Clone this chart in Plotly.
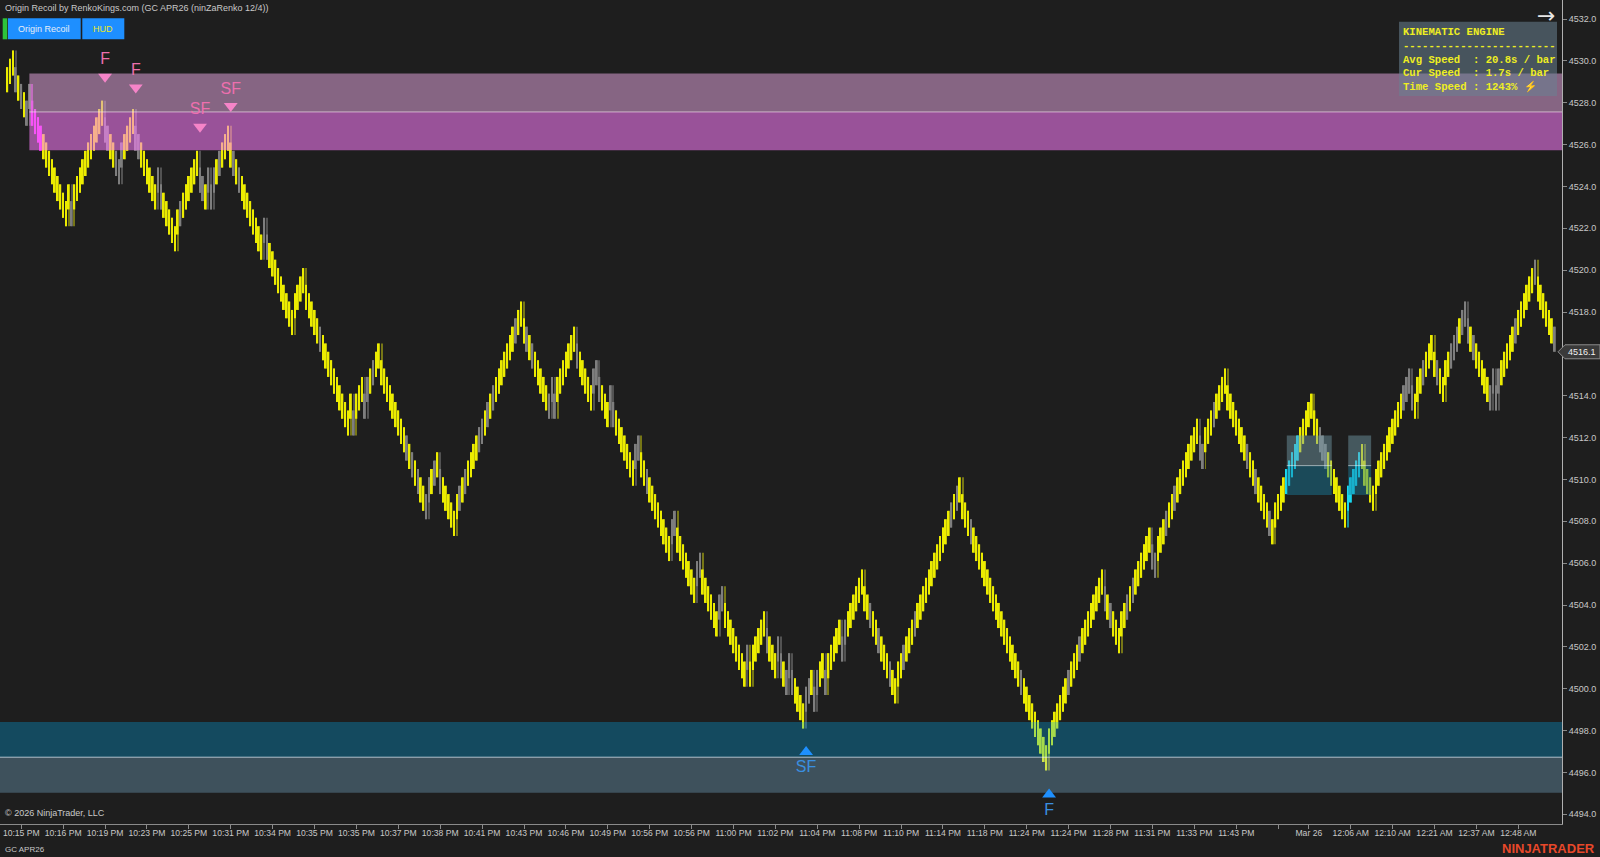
import plotly.graph_objects as go

# ---------------- data ----------------
closes = [
    4529.7, 4530.1, 4530.5, 4528.5, 4528.1, 4527.7, 4527.3, 4526.9, 4528.9, 4526.9, 4526.5,
    4526.1, 4525.7, 4525.3, 4524.9, 4524.5, 4524.1, 4523.7, 4523.3, 4522.9, 4522.5, 4522.1,
    4524.1, 4522.1, 4524.1, 4524.5, 4524.9, 4525.3, 4525.7, 4526.1, 4526.5, 4526.9, 4527.3, 4527.7, 4528.1,
    4526.1, 4525.7, 4525.3, 4524.9, 4524.5, 4524.1,
    4526.1, 4526.5, 4526.9, 4527.3, 4527.7,
    4525.7, 4525.3, 4524.9, 4524.5, 4524.1, 4523.7, 4523.3, 4522.9, 4524.9, 4522.9, 4522.5, 4522.1, 4521.7, 4521.3, 4520.9,
    4522.9, 4523.3, 4523.7, 4524.1, 4524.5, 4524.9, 4525.3, 4525.7,
    4523.7, 4523.3, 4522.9, 4524.9, 4522.9, 4524.9, 4525.3, 4525.7, 4526.1, 4526.5, 4526.9,
    4524.9, 4524.5, 4524.1, 4523.7, 4523.3, 4522.9, 4522.5, 4522.1, 4521.7, 4521.3, 4520.9, 4520.5,
    4522.5, 4520.5, 4520.1, 4519.7, 4519.3, 4518.9, 4518.5, 4518.1, 4517.7, 4517.3, 4516.9,
    4518.9, 4519.3, 4519.7, 4520.1,
    4518.1, 4517.7, 4517.3, 4516.9, 4516.5, 4516.1, 4515.7, 4515.3, 4514.9, 4514.5, 4514.1, 4513.7,
    4513.3, 4512.9, 4512.5, 4512.1,
    4514.1, 4512.1, 4514.1, 4514.5, 4514.9, 4512.9, 4514.9, 4515.3, 4515.7, 4516.1, 4516.5,
    4514.5, 4514.1, 4513.7, 4513.3, 4512.9, 4512.5, 4512.1, 4511.7, 4511.3, 4510.9, 4510.5, 4510.1,
    4509.7, 4509.3, 4508.9, 4508.5, 4508.1,
    4510.1, 4510.5, 4510.9, 4511.3,
    4509.3, 4508.9, 4508.5, 4508.1, 4507.7, 4507.3,
    4509.3, 4509.7, 4510.1, 4510.5, 4510.9, 4511.3, 4511.7, 4512.1, 4512.5, 4512.9, 4513.3, 4513.7,
    4514.1, 4514.5, 4514.9, 4515.3, 4515.7, 4516.1, 4516.5, 4516.9, 4517.3, 4517.7, 4518.1, 4518.5,
    4516.5, 4516.1, 4515.7, 4515.3, 4514.9, 4514.5, 4514.1, 4513.7, 4513.3, 4512.9,
    4514.9, 4512.9, 4514.9, 4515.3, 4515.7, 4516.1, 4516.5, 4516.9, 4517.3,
    4515.3, 4514.9, 4514.5, 4514.1, 4513.7, 4513.3, 4515.3, 4515.7, 4513.7, 4513.3, 4512.9, 4512.5,
    4514.5, 4512.5, 4512.1, 4511.7, 4511.3, 4510.9, 4510.5, 4510.1, 4509.7, 4511.7, 4512.1, 4510.1,
    4509.7, 4509.3, 4508.9, 4508.5, 4508.1, 4507.7, 4507.3, 4506.9, 4506.5, 4506.1, 4508.1, 4508.5,
    4506.5, 4506.1, 4505.7, 4505.3, 4504.9, 4504.5, 4504.1, 4506.1, 4506.5, 4504.5, 4504.1, 4503.7,
    4503.3, 4502.9, 4502.5, 4504.5, 4504.9, 4502.9, 4502.5, 4502.1, 4501.7, 4501.3, 4500.9, 4500.5,
    4500.1, 4502.1, 4500.1,
    4502.1, 4502.5, 4502.9, 4503.3, 4503.7, 4501.7, 4501.3, 4500.9, 4500.5, 4502.5, 4500.5, 4500.1,
    4499.7, 4501.7, 4499.7, 4499.3, 4498.9, 4498.5, 4498.1,
    4500.1, 4500.5, 4500.9, 4498.9, 4500.9, 4501.3, 4501.7, 4499.7, 4501.7, 4502.1, 4502.5, 4502.9,
    4503.3, 4501.3, 4503.3, 4503.7, 4504.1, 4504.5, 4504.9, 4505.3, 4505.7,
    4503.7, 4503.3, 4502.9, 4502.5, 4502.1, 4501.7, 4501.3, 4500.9, 4500.5, 4500.1, 4499.7, 4499.3,
    4501.3, 4501.7, 4502.1, 4502.5, 4502.9, 4503.3, 4503.7, 4504.1, 4504.5, 4504.9, 4505.3, 4505.7,
    4506.1, 4506.5, 4506.9, 4507.3, 4507.7, 4508.1, 4508.5, 4508.9, 4509.3, 4509.7, 4510.1,
    4508.1, 4507.7, 4507.3, 4506.9, 4506.5, 4506.1, 4505.7, 4505.3, 4504.9, 4504.5, 4504.1, 4503.7,
    4503.3, 4502.9, 4502.5, 4502.1, 4501.7, 4501.3, 4500.9, 4500.5, 4500.1, 4499.7, 4499.3, 4498.9,
    4498.5, 4498.1, 4497.7, 4497.3, 4496.9, 4496.5, 4496.1,
    4498.1, 4498.5, 4498.9, 4499.3, 4499.7, 4500.1, 4500.5, 4500.9, 4501.3, 4501.7, 4502.1, 4502.5,
    4502.9, 4503.3, 4503.7, 4504.1, 4504.5, 4504.9, 4505.3, 4505.7,
    4503.7, 4503.3, 4502.9, 4502.5, 4502.1, 4501.7,
    4503.7, 4504.1, 4504.5, 4504.9, 4505.3, 4505.7, 4506.1, 4506.5, 4506.9, 4507.3, 4507.7,
    4505.7, 4505.3,
    4507.3, 4507.7, 4508.1, 4508.5, 4508.9, 4509.3, 4509.7, 4510.1, 4510.5, 4510.9, 4511.3, 4511.7,
    4512.1, 4512.5, 4512.9,
    4510.9, 4510.5,
    4512.5, 4512.9, 4513.3, 4513.7, 4514.1, 4514.5, 4514.9, 4515.3,
    4513.3, 4512.9, 4512.5, 4512.1, 4511.7, 4511.3, 4510.9, 4510.5, 4510.1, 4509.7, 4509.3, 4508.9,
    4508.5, 4508.1, 4507.7, 4507.3, 4506.9,
    4508.9, 4509.3, 4509.7, 4510.1, 4510.5, 4510.9, 4511.3, 4511.7, 4512.1, 4512.5, 4512.9, 4513.3,
    4513.7, 4514.1,
    4512.1, 4511.7, 4511.3, 4510.9, 4510.5, 4510.1, 4509.7, 4509.3, 4508.9, 4508.5, 4508.1, 4507.7,
    4509.7, 4510.1, 4510.5, 4510.9, 4511.3, 4511.7,
    4509.7, 4509.3, 4508.9, 4508.5,
    4510.5, 4510.9, 4511.3, 4511.7, 4512.1, 4512.5, 4512.9, 4513.3, 4513.7, 4514.1, 4514.5, 4514.9, 4515.3,
    4513.3, 4512.9,
    4514.9, 4515.3, 4515.7, 4516.1, 4516.5, 4516.9,
    4514.9, 4514.5, 4514.1, 4513.7,
    4515.7, 4516.1, 4516.5, 4516.9, 4517.3, 4517.7, 4518.1, 4518.5,
    4516.5, 4516.1, 4515.7, 4515.3, 4514.9, 4514.5, 4514.1, 4513.7, 4513.3,
    4515.3, 4513.3,
    4515.3, 4515.7, 4516.1, 4516.5, 4516.9, 4517.3, 4517.7, 4518.1, 4518.5, 4518.9, 4519.3, 4519.7,
    4520.1, 4520.5,
    4518.5, 4518.1, 4517.7, 4517.3, 4516.9, 4516.5, 4516.1,
]

grey_bars = [3, 5, 7, 8, 23, 35, 36, 39, 40, 41, 46, 47, 54, 55, 62, 69, 70, 72, 73, 74, 76, 81, 83,
             92, 93, 112, 124, 128, 129, 131, 143, 145, 147, 150, 151, 153, 155, 162, 164, 169, 170,
             172, 174, 182, 186, 188, 194, 195, 196, 204, 210, 211, 212, 216, 217, 225, 226, 229,
             238, 239, 247, 248, 255, 256, 265, 272, 276, 277, 279, 280, 281, 286, 287, 289, 290,
             293, 299, 300, 309, 312, 316, 321, 325, 338, 340, 345, 363, 380, 384, 393, 395, 401,
             403, 410, 411, 415, 418, 427, 428, 432, 444, 447, 452, 470, 471, 472, 500, 501, 502,
             503, 507, 512, 517, 518, 519, 521, 522, 523, 525, 531, 532, 533, 534, 540, 547, 554]
cyan_bars = [458, 459, 460, 461, 462, 480, 481, 482, 483, 484]
magenta_bars = [9, 10, 11, 12]

brick_size = 1.2

tick_bars = [5, 20, 35, 50, 65, 80, 95, 110, 125, 140, 155, 170, 185, 200, 215, 230, 245, 260,
             275, 290, 305, 320, 335, 350, 365, 380, 395, 410, 425, 440, 455, 466, 481, 496,
             511, 526, 541]
tick_text = ["10:15 PM", "10:16 PM", "10:19 PM", "10:23 PM", "10:25 PM", "10:31 PM", "10:34 PM",
             "10:35 PM", "10:35 PM", "10:37 PM", "10:38 PM", "10:41 PM", "10:43 PM", "10:46 PM",
             "10:49 PM", "10:56 PM", "10:56 PM", "11:00 PM", "11:02 PM", "11:04 PM", "11:08 PM",
             "11:10 PM", "11:14 PM", "11:18 PM", "11:24 PM", "11:24 PM", "11:28 PM", "11:31 PM",
             "11:33 PM", "11:43 PM", "", "Mar 26", "12:06 AM", "12:10 AM", "12:21 AM", "12:37 AM",
             "12:48 AM"]

price_ticks = [4494 + 2 * k for k in range(20)]

# zones: [bottom, middle, top] prices
supply_zone = [4525.73, 4527.56, 4529.40]
supply_start_bar = 7.9
demand_zone = [4495.03, 4496.73, 4498.41]
small_zone = [4509.26, 4510.66, 4512.10]
small_zone_bars = [(458.1, 474.2), (480.1, 488.3)]

pink_sig_bars = [35, 46, 69, 80]
pink_sig_price = [4529.24, 4528.73, 4526.85, 4527.84]
pink_sig_text = ["F", "F", "SF", "SF"]
blue_sig_bars = [286, 373]
blue_sig_price = [4496.98, 4494.95]
blue_sig_text = ["SF", "F"]

last_price = closes[-1]

# ---------------- geometry helpers ----------------
W, H = 1600, 857
ML, MR, MT, MB = 0, 38, 0, 33
PW, PH = W - ML - MR, H - MT - MB
X_RANGE = [-2.614, 556.64]
Y_RANGE = [4493.538, 4532.908]
Y_PX = PH / (Y_RANGE[1] - Y_RANGE[0])


def px(xp):
    return xp / PW


def py(yp):
    return 1 - yp / PH


# ---------------- bars ----------------
n = len(closes)
idx = list(range(n))
body_lo, body_hi, wick_lo, wick_hi = [], [], [], []
dirs = []
for i, c in enumerate(closes):
    prev = closes[i - 1] if i > 0 else c - 0.4
    up = c > prev
    b0, b1 = (c - brick_size, c) if up else (c, c + brick_size)
    l, h = b0, b1
    if i > 0 and up != dirs[-1]:
        if up:
            l = min(l, prev)
        else:
            h = max(h, prev)
    dirs.append(up)
    body_lo.append(b0)
    body_hi.append(b1)
    wick_lo.append(l)
    wick_hi.append(h)

YEL, YEL_W = "#ECEC00", "#767616"
GRY, GRY_W = "#7E7E7E", "#525252"
CYN, CYN_W = "#19D9F0", "#1A8E9C"
MAG, MAG_W = "#F020F0", "#A030A0"
body_col, wick_col = [], []
gs, cs, ms = set(grey_bars), set(cyan_bars), set(magenta_bars)
for i in idx:
    if i in cs:
        body_col.append(CYN); wick_col.append(CYN_W)
    elif i in ms:
        body_col.append(MAG); wick_col.append(MAG_W)
    elif i in gs:
        body_col.append(GRY); wick_col.append(GRY_W)
    else:
        body_col.append(YEL); wick_col.append(YEL_W)

fig = go.Figure()
fig.add_trace(go.Bar(x=idx, y=[h - l for l, h in zip(wick_lo, wick_hi)], base=wick_lo, width=0.36,
                     marker=dict(color=wick_col, line=dict(width=0)), hoverinfo="skip", showlegend=False))
fig.add_trace(go.Bar(x=idx, y=[h - l for l, h in zip(body_lo, body_hi)], base=body_lo, width=0.62,
                     marker=dict(color=body_col, line=dict(width=0)), hoverinfo="skip", showlegend=False))


def rect(x0, x1, y0, y1, color):
    fig.add_trace(go.Scatter(x=[x0, x1, x1, x0, x0], y=[y0, y0, y1, y1, y0], mode="lines",
                             fill="toself", fillcolor=color, line=dict(width=0),
                             hoverinfo="skip", showlegend=False))


def hline(x0, x1, y, color):
    fig.add_trace(go.Scatter(x=[x0, x1], y=[y, y], mode="lines", line=dict(color=color, width=1),
                             hoverinfo="skip", showlegend=False))


# supply zone (magenta)
rect(supply_start_bar, 570, supply_zone[1], supply_zone[2], "rgba(220,160,215,0.55)")
rect(supply_start_bar, 570, supply_zone[0], supply_zone[1], "rgba(255,125,255,0.55)")
hline(supply_start_bar, 570, supply_zone[1], "rgba(255,235,250,0.6)")
# demand zone (teal)
rect(-10, 570, demand_zone[1], demand_zone[2], "rgba(0,180,247,0.30)")
rect(-10, 570, demand_zone[0], demand_zone[1], "rgba(140,203,237,0.30)")
hline(-10, 570, demand_zone[1], "rgba(235,245,255,0.7)")
# small boxes
for (b0, b1) in small_zone_bars:
    rect(b0, b1, small_zone[1], small_zone[2], "rgba(118,160,174,0.45)")
    rect(b0, b1, small_zone[0], small_zone[1], "rgba(24,128,162,0.45)")
    hline(b0, b1, small_zone[1], "rgba(230,240,245,0.6)")

# signals
fig.add_trace(go.Scatter(x=pink_sig_bars, y=pink_sig_price, mode="markers+text",
                         marker=dict(symbol="triangle-down", size=12, color="#F584C8"),
                         text=pink_sig_text, textposition="top center",
                         textfont=dict(size=16, color="#EE6FAE", family="Liberation Sans"),
                         hoverinfo="skip", showlegend=False))
fig.add_trace(go.Scatter(x=blue_sig_bars, y=blue_sig_price, mode="markers+text",
                         marker=dict(symbol="triangle-up", size=12, color="#1E90FF"),
                         text=blue_sig_text, textposition="bottom center",
                         textfont=dict(size=16, color="#3A8FE0", family="Liberation Sans"),
                         hoverinfo="skip", showlegend=False))

# ---------------- layout ----------------
AX_COL = "#8A8A8A"
TXT_COL = "#C8C8C8"
fig.update_layout(
    width=W, height=H, margin=dict(l=ML, r=MR, t=MT, b=MB, pad=0, autoexpand=False),
    paper_bgcolor="#1E1E1E", plot_bgcolor="#1E1E1E",
    barmode="overlay", showlegend=False,
    font=dict(family="Liberation Sans", color=TXT_COL, size=9),
    xaxis=dict(range=X_RANGE, showgrid=False, zeroline=False, tickmode="array",
               tickvals=tick_bars, ticktext=tick_text, ticks="outside", ticklen=4,
               tickcolor=AX_COL, showline=True, linecolor=AX_COL, linewidth=1,
               ticklabelstandoff=-3,
               tickfont=dict(size=8.6, color=TXT_COL), fixedrange=True),
    yaxis=dict(range=Y_RANGE, side="right", showgrid=False, zeroline=False, tickmode="array",
               tickvals=price_ticks, ticktext=[f"{v:.1f}" for v in price_ticks],
               ticks="outside", ticklen=4, tickcolor=AX_COL, showline=True,
               linecolor="#B0B0B0", linewidth=1, tickfont=dict(size=9, color=TXT_COL),
               fixedrange=True),
)

shapes = []
annos = []


def note(x, y, text, size, color, xa="center", ya="middle", **kw):
    d = dict(xref="paper", yref="paper", x=px(x), y=py(y), text=text, showarrow=False,
             xanchor=xa, yanchor=ya, font=dict(size=size, color=color, family=kw.pop("family", "Liberation Sans")))
    d.update(kw)
    annos.append(d)


def prect(x0, x1, y0, y1, color):
    shapes.append(dict(type="rect", xref="paper", yref="paper", x0=px(x0), x1=px(x1), y0=py(y1), y1=py(y0),
                       fillcolor=color, line=dict(width=0), layer="above"))


# top-left title and buttons
note(2.7, 8.3, "Origin Recoil by RenkoKings.com (GC APR26 (ninZaRenko 12/4))", 9, TXT_COL, xa="left")
prect(2.7, 7.3, 18.3, 39.3, "#2DC43A")
prect(8, 80.7, 18.3, 39.3, "#1E8FFF")
prect(82.3, 124.3, 18.3, 39.3, "#1E8FFF")
note(44.3, 28.8, "Origin Recoil", 9, "#E6EEF8")
note(103.3, 28.8, "HUD", 9, "#E8E81A")

# HUD panel
prect(1399, 1557, 21.7, 96, "rgba(105,130,145,0.55)")
nb = "\u00a0"
hud_lines = ["KINEMATIC ENGINE", "-" * 24,
             "Avg Speed  : 20.8s / bar", "Cur Speed  : 1.7s / bar", "Time Speed : 1243% \u26a1"]
note(1401, 23.5, "<br>".join("<b>" + s.replace(" ", nb) + "</b>" for s in hud_lines), 10.6, "#EEEE22",
     xa="left", ya="top", align="left", family="Liberation Mono")
note(1546, 15, "\u2192", 22, "#E6E6E6", family="DejaVu Sans")

# last price tag (arrow-shaped box on the price scale)
lp_y = (Y_RANGE[1] - last_price) * Y_PX
shapes.append(dict(type="path", xref="paper", yref="paper", layer="above",
                   path=(f"M {px(1558)} {py(lp_y)} L {px(1565)} {py(lp_y - 7)} L {px(1600)} {py(lp_y - 7)} "
                         f"L {px(1600)} {py(lp_y + 7)} L {px(1565)} {py(lp_y + 7)} Z"),
                   fillcolor="#3A3A3A", line=dict(color="#8C8C8C", width=1)))
note(1582, lp_y, f"{last_price:.1f}", 9, "#F2F2F2")

# footer texts
note(3, 813, "\u00a9 2026 NinjaTrader, LLC", 9, TXT_COL, xa="left")
note(3, 849, "GC APR26", 8, TXT_COL, xa="left")
note(1597, 848, "<b>NINJATRADER</b>", 13, "#E8482A", xa="right")

fig.update_layout(shapes=shapes, annotations=annos)
fig.write_html("out.html", config={"displayModeBar": False},
               post_script="document.body.style.margin='0';document.body.style.padding='0';")
